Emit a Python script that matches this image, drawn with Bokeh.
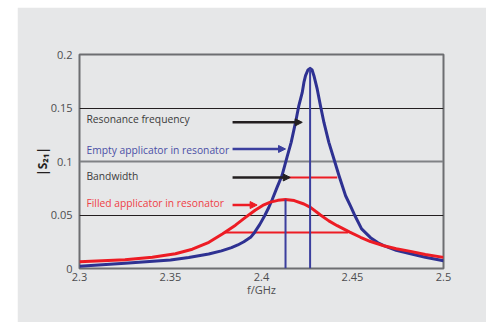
from bokeh.plotting import figure
from bokeh.models import (Arrow, NormalHead, FixedTicker, Grid, Spacer, Range1d, ColumnDataSource)
from bokeh.layouts import row, column
from bokeh.core.properties import value
from bokeh.embed import file_html
from bokeh.resources import INLINE

# ---- data ----
empty_f = [2.300, 2.325, 2.350, 2.360, 2.371, 2.378, 2.3835, 2.387, 2.3903, 2.3940,
           2.3962, 2.3990, 2.4018, 2.4040, 2.4059, 2.4086, 2.4113, 2.4141, 2.4163, 2.4187,
           2.4205, 2.4224, 2.4233, 2.4242, 2.4255, 2.4267, 2.4278, 2.4288, 2.4306, 2.4324,
           2.4343, 2.4370, 2.4398, 2.4426, 2.4462, 2.4490, 2.4510, 2.4550, 2.4599, 2.4640,
           2.4672, 2.4740, 2.4819, 2.4900, 2.500]
empty_s21 = [0.0020, 0.0048, 0.0080, 0.0102, 0.0135, 0.0165, 0.0195, 0.0220, 0.0250, 0.0291,
             0.0337, 0.0410, 0.0495, 0.0570, 0.0645, 0.0760, 0.0870, 0.1045, 0.1179, 0.1365,
             0.1521, 0.1646, 0.1739, 0.1802, 0.1855, 0.1870, 0.1855, 0.1802, 0.1678, 0.1521,
             0.1365, 0.1179, 0.1023, 0.0867, 0.0680, 0.0580, 0.0505, 0.0370, 0.0288, 0.0240,
             0.0213, 0.0170, 0.0138, 0.0105, 0.0073]

filled_f = [2.300, 2.325, 2.340, 2.3527, 2.3620, 2.3711, 2.3787, 2.3857, 2.3910, 2.3965,
            2.4013, 2.4049, 2.4090, 2.4132, 2.4180, 2.4233, 2.4269, 2.4324, 2.4370, 2.4416,
            2.4485, 2.4544, 2.4599, 2.4672, 2.4740, 2.4819, 2.4900, 2.500]
filled_s21 = [0.0064, 0.0082, 0.0105, 0.0138, 0.0180, 0.0245, 0.0325, 0.0405, 0.0475, 0.0545,
              0.0595, 0.0620, 0.0637, 0.0645, 0.0635, 0.0603, 0.0571, 0.0500, 0.0445, 0.0400,
              0.0340, 0.0292, 0.0252, 0.0213, 0.0185, 0.0160, 0.0130, 0.0104]

# resonance markers (vertical lines)
res_f = [2.4132, 2.4267]
res_peak = [0.0645, 0.1870]

# bandwidth markers (horizontal lines)
bw_level = [0.0851, 0.0337]
bw_start = [2.4101, 2.3795]
bw_end = [2.4416, 2.4475]

# annotation labels and arrows
labels = ["Resonance frequency", "Empty applicator in resonator", "Bandwidth",
          "Filled applicator in resonator"]
label_y = [0.1395, 0.1110, 0.0868, 0.0612]
label_x = 2.3038
label_colors = ["#3b3b3b", "#4b4fa6", "#3b3b3b", "#ef3e46"]
arrow_y = [0.1366, 0.1117, 0.0851, 0.0593]
arrow_x0 = [2.3841, 2.3841, 2.3841, 2.3841]
arrow_x1 = [2.4224, 2.4132, 2.4158, 2.3976]
arrow_colors = ["#231f20", "#3b3f9e", "#231f20", "#ed1c24"]

y_ticks = [0, 0.05, 0.1, 0.15, 0.2]
y_tick_labels = ["0", "0.05", "0.1", "0.15", "0.2"]
x_ticks = [2.3, 2.35, 2.4, 2.45, 2.5]
x_tick_labels = ["2.3", "2.35", "2.4", "2.45", "2.5"]

BG = "#e6e7e8"
BLUE = "#2e3192"
RED = "#ed1c24"
FONT = "Open Sans"

p = figure(width=469, height=315, output_backend="svg", toolbar_location=None,
           x_range=Range1d(2.3, 2.5), y_range=Range1d(0, 0.2),
           min_border_left=62, min_border_right=43, min_border_top=47, min_border_bottom=54,
           background_fill_color=BG, border_fill_color=BG)
p.outline_line_color = "#6d6e71"
p.outline_line_width = 2

p.xgrid.visible = False
p.ygrid.visible = False
p.add_layout(Grid(dimension=1, ticker=FixedTicker(ticks=[0.05, 0.15]),
                  grid_line_color="#231f20", grid_line_width=1))
p.add_layout(Grid(dimension=1, ticker=FixedTicker(ticks=[0.1]),
                  grid_line_color="#808285", grid_line_width=2))

for ax in (p.xaxis[0], p.yaxis[0]):
    ax.axis_line_color = None
    ax.major_tick_line_color = None
    ax.minor_tick_line_color = None
    ax.major_tick_out = 0
    ax.major_tick_in = 0
    ax.minor_tick_out = 0
    ax.minor_tick_in = 0
    ax.major_label_text_font = FONT
    ax.major_label_text_font_size = "11px"
    ax.major_label_text_color = "#4d4d4f"
    ax.axis_label_text_font = FONT
    ax.axis_label_text_font_style = "normal"
    ax.axis_label_text_color = "#4d4d4f"

p.xaxis.ticker = FixedTicker(ticks=x_ticks)
p.xaxis.major_label_overrides = dict(zip(x_ticks, x_tick_labels))
p.xaxis.major_label_standoff = 4
p.xaxis.axis_label = "f/GHz"
p.xaxis.axis_label_text_font_size = "11px"
p.xaxis.axis_label_standoff = -2

p.yaxis.ticker = FixedTicker(ticks=y_ticks)
p.yaxis.major_label_overrides = dict(zip(y_ticks, y_tick_labels))
p.yaxis.major_label_standoff = 7
p.yaxis.axis_label = "|S\u2082\u2081|"
p.yaxis.axis_label_text_font_size = "12px"
p.yaxis.axis_label_text_font_style = "bold"
p.yaxis.axis_label_text_color = "#231f20"
p.yaxis.axis_label_standoff = -3

# bandwidth lines
p.segment(x0=bw_start, y0=bw_level, x1=bw_end, y1=bw_level, line_color=RED, line_width=2)

# curves
p.line(empty_f, empty_s21, line_color=BLUE, line_width=3, line_join="round")
p.line(filled_f, filled_s21, line_color=RED, line_width=3, line_join="round")

# resonance vertical lines
p.segment(x0=res_f, y0=[0, 0], x1=res_f, y1=res_peak, line_color="#3b3f9e", line_width=2)

# arrows
for xs, xe, yy, c in zip(arrow_x0, arrow_x1, arrow_y, arrow_colors):
    p.add_layout(Arrow(x_start=xs, y_start=yy, x_end=xe, y_end=yy, line_color=c, line_width=2.5,
                       end=NormalHead(size=7, fill_color=c, line_color=c, line_width=1)))

src = ColumnDataSource(dict(x=[label_x] * len(labels), y=label_y, t=labels, c=label_colors))
p.text(x="x", y="y", text="t", text_color="c", source=src, text_font=value(FONT),
       text_font_size="10.3px", text_baseline="middle", text_align="left")

layout = column(Spacer(width=10, height=7), row(Spacer(width=17, height=10), p))
open("out.html", "w").write(file_html(layout, INLINE))
